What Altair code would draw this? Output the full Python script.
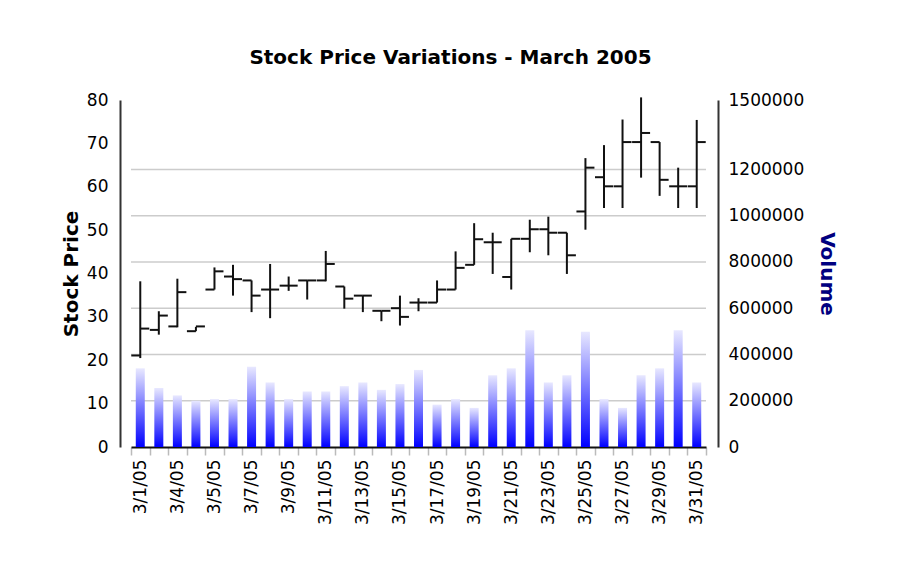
import altair as alt
import pandas as pd

# ---- data ----
tick_labels = ["3/1/05", "3/4/05", "3/5/05", "3/7/05", "3/9/05", "3/11/05", "3/13/05",
               "3/15/05", "3/17/05", "3/19/05", "3/21/05", "3/23/05", "3/25/05",
               "3/27/05", "3/29/05", "3/31/05"]
day_index = list(range(31))
open_ = [21.1, 27.0, 27.8, 26.7, 36.3, 39.3, 38.4, 36.3, 37.2, 38.4, 38.4, 37.0, 34.9, 31.4,
         32.0, 33.3, 33.3, 36.3, 42.0, 47.2, 39.2, 48.0, 50.2, 49.4, 54.3, 62.2, 60.1, 70.3,
         70.3, 60.1, 60.1]
high = [38.2, 31.3, 38.8, 27.7, 41.4, 42.0, 38.4, 42.2, 39.3, 38.4, 45.2, 37.0, 34.9, 31.4,
        34.9, 34.3, 38.4, 45.1, 51.6, 49.4, 48.0, 52.4, 53.1, 49.4, 66.6, 69.6, 75.5, 80.6,
        70.3, 64.4, 75.4]
low = [20.5, 25.9, 27.6, 26.7, 36.3, 34.9, 31.1, 29.7, 36.0, 34.0, 38.2, 31.9, 31.1, 29.0,
       28.0, 31.3, 33.3, 36.3, 42.0, 39.9, 36.3, 44.9, 44.2, 39.9, 50.1, 55.1, 55.1, 62.1,
       57.9, 55.1, 55.1]
close = [27.3, 30.3, 35.7, 27.8, 40.5, 38.7, 34.9, 36.3, 37.2, 38.4, 42.2, 34.2, 34.9, 31.4,
         30.0, 33.3, 36.3, 41.3, 47.9, 47.2, 48.0, 50.2, 49.4, 44.2, 64.4, 60.1, 70.3, 72.4,
         61.6, 60.1, 70.3]
volume = [340000, 255000, 223000, 200000, 207000, 207000, 347000, 279000, 207000, 240000,
          240000, 263000, 279000, 247000, 272000, 333000, 183000, 207000, 169000, 310000,
          340000, 505000, 279000, 310000, 498000, 207000, 169000, 310000, 340000, 505000,
          279000]
price_ticks = [0, 10, 20, 30, 40, 50, 60, 70, 80]
volume_ticks = [0, 200000, 400000, 600000, 800000, 1000000, 1200000, 1500000]
volume_grid = [200000, 400000, 600000, 800000, 1000000, 1200000]

df = pd.DataFrame({"idx": day_index, "open": open_, "high": high, "low": low,
                   "close": close, "volume": volume})
grid_df = pd.DataFrame({"volume": volume_grid})

FONT = "DejaVu Sans"
arr = "[" + ",".join("'" + t + "'" for t in tick_labels) + "]"
label_expr = f"datum.value % 2 == 0 ? {arr}[datum.value / 2] : ''"

x_enc = alt.X(
    "idx:O",
    scale=alt.Scale(paddingInner=0, paddingOuter=0),
    axis=alt.Axis(
        title=None, labelExpr=label_expr, labelAngle=-90, labelOverlap=False,
        labelFont=FONT, labelFontSize=17, labelColor="#000000",
        tickBand="extent", tickColor="#bbbbbb", tickSize=8, tickWidth=1.5,
        labelPadding=4, domainColor="#111111", domainWidth=2, grid=False,
    ),
)

gradient = alt.Gradient(
    gradient="linear",
    stops=[alt.GradientStop(color="#e8e8ff", offset=0),
           alt.GradientStop(color="#0000ff", offset=1)],
    x1=0, x2=0, y1=0, y2=1,
)

vol_scale = alt.Scale(domain=[0, 1500000], nice=False)
vol_axis = alt.Axis(
    orient="right", values=volume_ticks, format="d", title="Volume",
    labelFont=FONT, labelFontSize=17, labelColor="#000000",
    titleFont=FONT, titleFontSize=20, titleFontWeight="bold",
    titleColor="#000080", titlePadding=13, offset=12, ticks=False, labelPadding=10,
    grid=False, domainColor="#333333", domainWidth=2,
)

grid = alt.Chart(grid_df).mark_rule(color="#cccccc", strokeWidth=1.5).encode(
    y=alt.Y("volume:Q", scale=vol_scale, axis=vol_axis))
bars = alt.Chart(df).mark_bar(size=9, color=gradient).encode(
    x=x_enc,
    y=alt.Y("volume:Q", scale=vol_scale, axis=vol_axis),
)
vol_layer = alt.layer(grid, bars)

price_scale = alt.Scale(domain=[0, 80], nice=False)
price_axis = alt.Axis(
    orient="left", values=price_ticks, title="Stock Price",
    labelFont=FONT, labelFontSize=17, labelColor="#000000",
    titleFont=FONT, titleFontSize=20, titleFontWeight="bold", titleColor="#000000",
    titlePadding=5, offset=11,
    ticks=False, labelPadding=12, grid=False, domainColor="#333333", domainWidth=2,
)

base = alt.Chart(df).encode(x=x_enc)
hl = base.mark_rule(color="#111111", strokeWidth=2).encode(
    y=alt.Y("low:Q", scale=price_scale, axis=price_axis), y2="high:Q")
op = base.mark_rule(color="#111111", strokeWidth=2, xOffset=-9, x2Offset=0).encode(
    x2=alt.X2("idx"), y=alt.Y("open:Q", scale=price_scale, axis=price_axis))
cl = base.mark_rule(color="#111111", strokeWidth=2, xOffset=0, x2Offset=9).encode(
    x2=alt.X2("idx"), y=alt.Y("close:Q", scale=price_scale, axis=price_axis))

ohlc = alt.layer(hl, op, cl)

chart = alt.layer(vol_layer, ohlc).resolve_scale(y="independent").properties(
    width=575, height=347,
    title=alt.TitleParams("Stock Price Variations - March 2005", font=FONT, fontSize=20,
                          fontWeight="bold", color="#000000", anchor="middle", dx=32,
                          offset=23),
    padding={"left": 123, "top": 92, "right": 193, "bottom": 110},
    autosize=alt.AutoSizeParams(type="none"),
    view=alt.ViewBackground(stroke="transparent", strokeWidth=0),
).configure_view(stroke="transparent", strokeWidth=0).configure_axis(
    labelFont=FONT, titleFont=FONT, grid=False
).configure(background="white")

chart.save("out.html", embed_options={"renderer": "svg", "actions": False})
